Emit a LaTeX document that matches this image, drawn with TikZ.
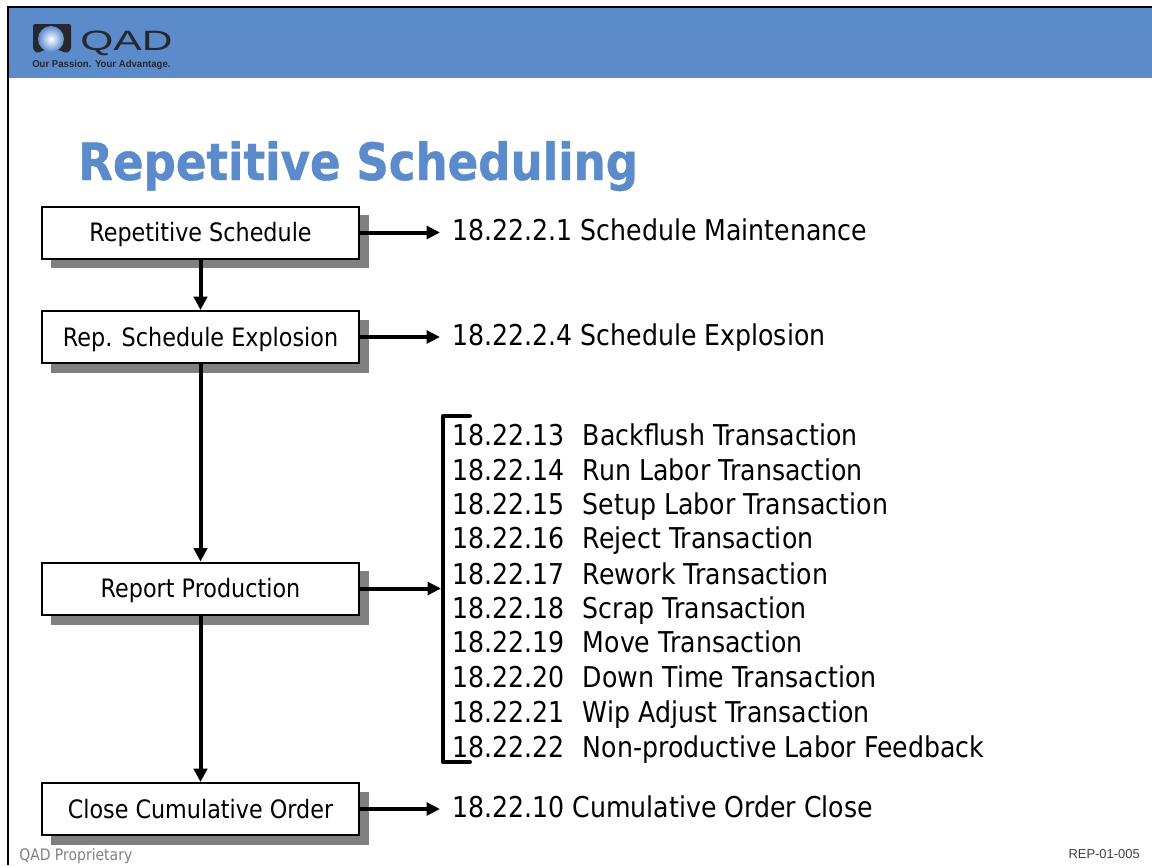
\documentclass[tikz,border=0pt]{standalone}
\usepackage{fontspec}
\usetikzlibrary{arrows.meta,calc}
\setmainfont[FakeStretch=0.88]{DejaVu Sans}
\newfontfamily\titlefont[FakeStretch=0.879,FakeBold=0.8]{DejaVu Sans Bold}
\newfontfamily\logofont[FakeStretch=1.52]{Liberation Sans}
\newfontfamily\tagfont[FakeStretch=0.96]{Liberation Sans}
\newfontfamily\footfont{Liberation Sans}
\definecolor{qadblue}{HTML}{5B8BCB}
\definecolor{logodark}{HTML}{26282E}
\definecolor{shadowgray}{HTML}{808080}
\tikzset{
  x=0.75pt,y=-0.75pt,
  flowbox/.style={draw=black,line width=1.5pt,fill=white,minimum width=237.5pt,minimum height=39pt,inner sep=0pt,text height=13.85pt,text depth=0pt,font=\fontsize{19}{21}\selectfont,text=black},
  shade box/.style={fill=shadowgray,draw=none},
  flow/.style={line width=3pt,-{Triangle[length=10pt,width=10pt]}},
  side/.style={line width=3pt,-{Triangle[length=10pt,width=9.5pt]}},
  entry/.style={anchor=west,inner xsep=9pt,inner ysep=0pt,text height=15.7pt,text depth=0pt,font=\fontsize{21.5}{24}\selectfont,text=black},
  bracket/.style={line width=3pt,line cap=round,line join=round},
}
\newcommand{\gapcode}{\hspace{13.7pt}}
\begin{document}
\begin{tikzpicture}
\useasboundingbox (0,0) rectangle (1152,865);
\fill[white] (0,0) rectangle (1152,865);
% header band and frame
\fill[qadblue] (8,7) rectangle (1152,78);
\draw[line width=1.5pt] (8,865) -- (8,7) -- (1152,7);
% logo
\fill[logodark,rounded corners=1.5pt] (33,24) -- (71,24) -- (71,50) -- (66,53.5) -- (60,50) -- (43,50) -- (38,53.5) -- (33,50) -- cycle;
\shade[inner color=white,outer color=qadblue] (51,39) circle (13);
\node[anchor=base west,inner sep=0pt,font=\logofont\fontsize{21}{23}\selectfont,text=logodark] (logo) at (80,50) {QAD};
\node[anchor=base west,inner sep=0pt,font=\tagfont\bfseries\fontsize{7.5}{8}\selectfont,text=logodark] (tagline) at (32,67) {Our Passion. Your Advantage.};
% title
\node[anchor=base west,inner sep=0pt,font=\titlefont\fontsize{38.5}{42}\selectfont,text=qadblue] (title) at (78,180) {Repetitive Scheduling};
% shadows
\fill[shade box] (51,215) rectangle (369,268);
\fill[shade box] (51,320) rectangle (369,373);
\fill[shade box] (51,571) rectangle (369,625);
\fill[shade box] (51,792) rectangle (369,845);
% boxes
\node[flowbox] (a) at (200.5,232.5) {Repetitive Schedule};
\node[flowbox] (b) at (200.5,337) {Rep. Schedule Explosion};
\node[flowbox] (c) at (200.5,588.5) {Report Production};
\node[flowbox] (d) at (200.5,809) {Close Cumulative Order};
% entries
\node[entry] (e1) at (440,230) {18.22.2.1 Schedule Maintenance};
\node[entry] (e2) at (440,335) {18.22.2.4 Schedule Explosion};
\node[entry] (e3) at (440,807) {18.22.10 Cumulative Order Close};
\node[entry] (t13) at (440,435) {18.22.13\gapcode Backflush Transaction};
\node[entry] (t14) at (440,470) {18.22.14\gapcode Run Labor Transaction};
\node[entry] (t15) at (440,504) {18.22.15\gapcode Setup Labor Transaction};
\node[entry] (t16) at (440,538) {18.22.16\gapcode Reject Transaction};
\node[entry] (t17) at (440,574) {18.22.17\gapcode Rework Transaction};
\node[entry] (t18) at (440,608) {18.22.18\gapcode Scrap Transaction};
\node[entry] (t19) at (440,642) {18.22.19\gapcode Move Transaction};
\node[entry] (t20) at (440,677) {18.22.20\gapcode Down Time Transaction};
\node[entry] (t21) at (440,712) {18.22.21\gapcode Wip Adjust Transaction};
\node[entry] (t22) at (440,747) {18.22.22\gapcode Non-productive Labor Feedback};
% bracket
\coordinate (brtop) at (443,416);
\coordinate (brbot) at (443,762);
\coordinate (brin) at (441,589);
\draw[bracket] (470,416) -- (brtop) -- (brbot) -- (470,762);
% connectors
\draw[flow] (a.south) -- (b.north);
\draw[flow] (b.south) -- (c.north);
\draw[flow] (c.south) -- (d.north);
\draw[side] (a.east) -- (a.east -| e1.west);
\draw[side] (b.east) -- (b.east -| e2.west);
\draw[side] (c.east) -- (c.east -| brin);
\draw[side] (d.east) -- (d.east -| e3.west);
% footer
\node[anchor=base west,inner sep=0pt,font=\fontsize{11.9}{13}\selectfont,text=shadowgray] (foot) at (19,860) {QAD Proprietary};
\node[anchor=base east,inner sep=0pt,font=\footfont\fontsize{9.7}{11}\selectfont,text=black!75] (code) at (1140,858) {REP-01-005};
\end{tikzpicture}
\end{document}
